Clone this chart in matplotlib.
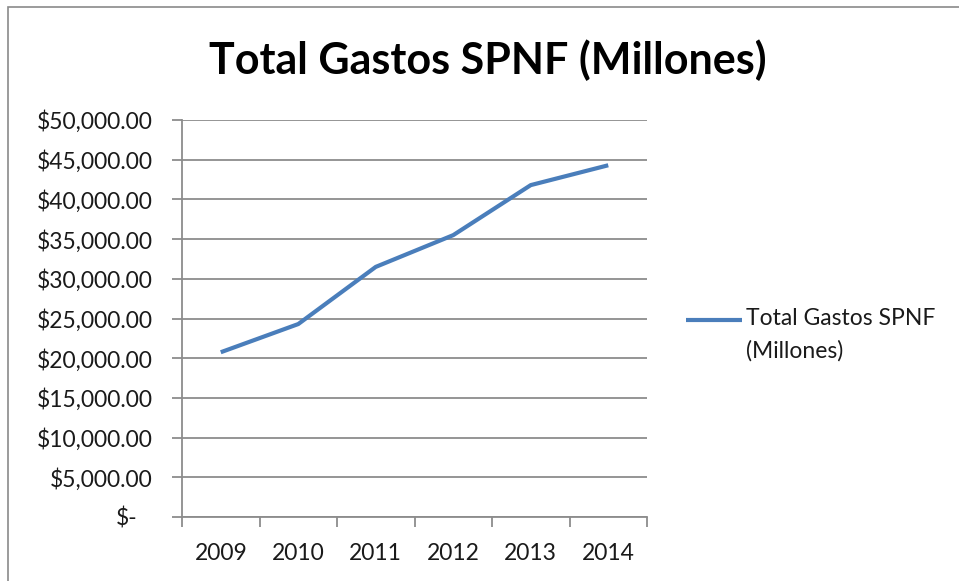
import matplotlib
matplotlib.use("Agg")
import matplotlib.pyplot as plt
import matplotlib.transforms as mtransforms
from matplotlib.patches import Rectangle
from matplotlib.lines import Line2D

years = ["2009", "2010", "2011", "2012", "2013", "2014"]
gastos = [20750, 24300, 31500, 35500, 41800, 44300]
yticks = [0, 5000, 10000, 15000, 20000, 25000, 30000, 35000, 40000, 45000, 50000]
ytick_labels = ["$-", "$5,000.00", "$10,000.00", "$15,000.00", "$20,000.00", "$25,000.00",
                "$30,000.00", "$35,000.00", "$40,000.00", "$45,000.00", "$50,000.00"]
title = "Total Gastos SPNF (Millones)"
series_name = "Total Gastos SPNF\n(Millones)"

plt.rcParams['font.family'] = ['Lato', 'DejaVu Sans']

W, H = 959, 581
fig = plt.figure(figsize=(W / 100, H / 100), dpi=100)
fig.patch.set_facecolor("white")

line_c = "#4A7EBB"
txt_c = "#1a1a1a"
grid_c = "#8c8c8c"
fs = 16.5

# outer chart border
fig.add_artist(Rectangle((8 / W, -0.01), 1.02, 1 - 7 / H + 0.01, transform=fig.transFigure,
                         fill=False, edgecolor="#8a8a8a", linewidth=1.2))

ax = fig.add_axes([182 / W, (H - 517) / H, (647 - 182) / W, (517 - 120) / H])
x = list(range(len(years)))
ax.plot(x, gastos, color=line_c, linewidth=3, solid_capstyle="butt", solid_joinstyle="round")

ax.set_xlim(-0.5, len(years) - 0.5)
ax.set_ylim(0, 50000)
ax.set_yticks(yticks)
ax.set_yticklabels(ytick_labels)
ax.set_xticks([i - 0.5 for i in range(len(years) + 1)])
ax.set_xticklabels([])
ax.set_xticks(x, minor=True)
ax.set_xticklabels(years, minor=True)

ax.yaxis.grid(True, color=grid_c, linewidth=1.3)
ax.set_axisbelow(True)
for s in ["top", "right"]:
    ax.spines[s].set_visible(False)
for s in ["left", "bottom"]:
    ax.spines[s].set_color(grid_c)
    ax.spines[s].set_linewidth(1.3)

ax.tick_params(axis="y", direction="out", length=7, width=1.3, color=grid_c,
               labelsize=fs, labelcolor=txt_c, pad=14)
ax.tick_params(axis="x", which="major", direction="out", length=7, width=1.3, color=grid_c)
ax.tick_params(axis="x", which="minor", length=0, labelsize=fs, labelcolor=txt_c, pad=19)

# Excel accounting "$-" sits further left
lbl0 = ax.get_yticklabels()[0]
lbl0.set_transform(lbl0.get_transform() + mtransforms.ScaledTranslation(-15 / 100, 0, fig.dpi_scale_trans))

fig.text(488 / W, 1 - 60 / H, title, ha="center", va="center", fontsize=31,
         fontweight="bold", color="black")

# legend (handle aligned with first text line, as in Excel)
fig.add_artist(Line2D([686 / W, 742 / W], [1 - 320 / H, 1 - 320 / H], transform=fig.transFigure,
                      color=line_c, linewidth=3, solid_capstyle="butt"))
fig.text(746 / W, 1 - 308 / H, series_name, ha="left", va="top", fontsize=fs,
         color=txt_c, linespacing=1.65)

fig.savefig("out.png", dpi=100, facecolor="white")
